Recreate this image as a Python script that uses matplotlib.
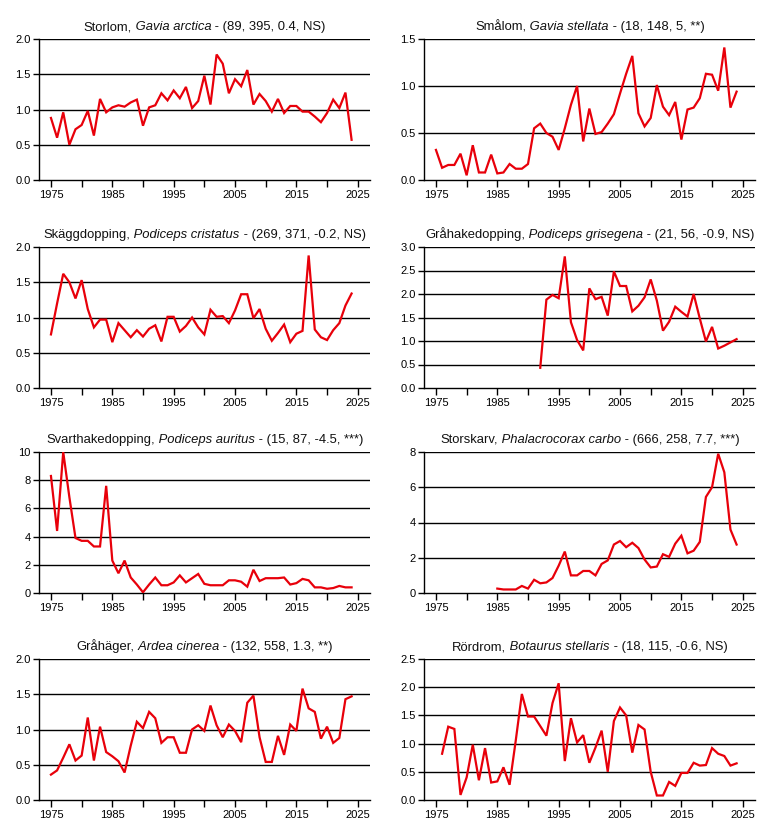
import matplotlib
matplotlib.use("Agg")
import matplotlib.pyplot as plt
import numpy as np

plt.rcParams['font.family'] = ['Liberation Sans', 'DejaVu Sans']

# ---- data ----
storlom_start = 1975
storlom = [0.88, 0.60, 0.96, 0.50, 0.72, 0.78, 0.98, 0.63, 1.15, 0.96,
           1.03, 1.06, 1.04, 1.10, 1.14, 0.77, 1.03, 1.06, 1.23, 1.13,
           1.27, 1.16, 1.32, 1.02, 1.12, 1.48, 1.07, 1.78, 1.65, 1.23,
           1.43, 1.33, 1.56, 1.07, 1.22, 1.12, 0.97, 1.15, 0.95, 1.05,
           1.05, 0.97, 0.97, 0.90, 0.82, 0.95, 1.14, 1.02, 1.24, 0.57]

smalom_start = 1975
smalom = [0.32, 0.13, 0.16, 0.16, 0.28, 0.05, 0.37, 0.08, 0.08, 0.27,
          0.07, 0.08, 0.17, 0.12, 0.12, 0.17, 0.55, 0.60, 0.50, 0.46,
          0.32, 0.55, 0.80, 1.00, 0.41, 0.76, 0.49, 0.51, 0.60, 0.70,
          0.92, 1.13, 1.32, 0.71, 0.57, 0.66, 1.01, 0.78, 0.69, 0.83,
          0.43, 0.75, 0.77, 0.87, 1.13, 1.12, 0.95, 1.41, 0.77, 0.94]

skagg_start = 1975
skagg = [0.76, 1.20, 1.62, 1.50, 1.27, 1.53, 1.12, 0.86, 0.97, 0.97,
         0.65, 0.92, 0.82, 0.72, 0.82, 0.73, 0.84, 0.89, 0.66, 1.01,
         1.01, 0.80, 0.88, 1.00, 0.86, 0.76, 1.11, 1.01, 1.02, 0.92,
         1.10, 1.33, 1.33, 0.99, 1.12, 0.84, 0.67, 0.78, 0.90, 0.65,
         0.77, 0.81, 1.88, 0.83, 0.72, 0.68, 0.82, 0.92, 1.17, 1.34]

grahake_start = 1992
grahake = [0.43, 1.88, 1.98, 1.91, 2.80, 1.40, 1.02, 0.80, 2.12, 1.89,
           1.94, 1.54, 2.48, 2.17, 2.17, 1.63, 1.75, 1.93, 2.31, 1.86,
           1.22, 1.41, 1.73, 1.62, 1.52, 2.00, 1.48, 0.99, 1.30, 0.84,
           0.90, 0.97, 1.04]

svart_start = 1975
svart = [8.3, 4.4, 10.0, 6.8, 3.9, 3.7, 3.7, 3.3, 3.3, 7.6,
         2.3, 1.4, 2.3, 1.1, 0.6, 0.05, 0.6, 1.1, 0.55, 0.55,
         0.75, 1.25, 0.75, 1.05, 1.35, 0.65, 0.55, 0.55, 0.55, 0.9,
         0.9, 0.8, 0.45, 1.65, 0.85, 1.05, 1.05, 1.05, 1.1, 0.6,
         0.7, 1.0, 0.9, 0.4, 0.4, 0.3, 0.35, 0.5, 0.4, 0.4]

storskarv_start = 1985
storskarv = [0.25, 0.2, 0.2, 0.2, 0.4, 0.25, 0.75, 0.55, 0.6, 0.85,
             1.55, 2.35, 1.0, 1.0, 1.25, 1.25, 1.0, 1.65, 1.85, 2.75,
             2.95, 2.6, 2.85, 2.55, 1.9, 1.45, 1.5, 2.2, 2.05, 2.8,
             3.25, 2.25, 2.4, 2.9, 5.45, 6.0, 7.9, 6.85, 3.6, 2.75]

grahager_start = 1975
grahager = [0.36, 0.42, 0.60, 0.79, 0.56, 0.63, 1.17, 0.56, 1.04, 0.68,
            0.62, 0.55, 0.39, 0.77, 1.11, 1.02, 1.25, 1.16, 0.81, 0.89,
            0.89, 0.67, 0.67, 1.00, 1.06, 0.98, 1.34, 1.06, 0.89, 1.07,
            0.98, 0.82, 1.38, 1.48, 0.89, 0.54, 0.54, 0.91, 0.64, 1.07,
            0.98, 1.58, 1.30, 1.25, 0.87, 1.04, 0.81, 0.88, 1.43, 1.47]

rordrom_start = 1976
rordrom = [0.82, 1.30, 1.26, 0.09, 0.40, 0.98, 0.35, 0.92, 0.31, 0.33,
           0.58, 0.27, 1.05, 1.88, 1.48, 1.48, 1.31, 1.14, 1.72, 2.07,
           0.69, 1.45, 1.02, 1.15, 0.66, 0.93, 1.23, 0.50, 1.40, 1.64,
           1.50, 0.84, 1.33, 1.25, 0.50, 0.08, 0.08, 0.32, 0.25, 0.48,
           0.48, 0.66, 0.61, 0.62, 0.92, 0.82, 0.78, 0.61, 0.65]

common_names = ["Storlom", "Smålom", "Skäggdopping", "Gråhakedopping",
                "Svarthakedopping", "Storskarv", "Gråhäger", "Rördrom"]
latin_names = ["Gavia arctica", "Gavia stellata", "Podiceps cristatus",
               "Podiceps grisegena", "Podiceps auritus", "Phalacrocorax carbo",
               "Ardea cinerea", "Botaurus stellaris"]
stats = ["(89, 395, 0.4, NS)", "(18, 148, 5, **)", "(269, 371, -0.2, NS)",
         "(21, 56, -0.9, NS)", "(15, 87, -4.5, ***)", "(666, 258, 7.7, ***)",
         "(132, 558, 1.3, **)", "(18, 115, -0.6, NS)"]
series = [storlom, smalom, skagg, grahake, svart, storskarv, grahager, rordrom]
starts = [storlom_start, smalom_start, skagg_start, grahake_start,
          svart_start, storskarv_start, grahager_start, rordrom_start]
y_ticks = [[0, 0.5, 1.0, 1.5, 2.0], [0, 0.5, 1.0, 1.5],
           [0, 0.5, 1.0, 1.5, 2.0], [0, 0.5, 1.0, 1.5, 2.0, 2.5, 3.0],
           [0, 2, 4, 6, 8, 10], [0, 2, 4, 6, 8],
           [0, 0.5, 1.0, 1.5, 2.0], [0, 0.5, 1.0, 1.5, 2.0, 2.5]]
y_fmt = ["%.1f", "%.1f", "%.1f", "%.1f", "%d", "%d", "%.1f", "%.1f"]
x_ticks = list(range(1975, 2026, 5))
x_labels = [str(t) if (t - 1975) % 10 == 0 else "" for t in x_ticks]

# ---- layout ----
W, H = 769, 827
fig = plt.figure(figsize=(W / 100, H / 100), dpi=100)
lefts = [39.3, 424.3]
width = 330.7
tops = [39, 247, 452, 659]
height = 141

RED = "#e8000a"
TFS = 9.4
axes = []
for i in range(8):
    r, c = divmod(i, 2)
    ax = fig.add_axes([lefts[c] / W, 1 - (tops[r] + height) / H, width / W, height / H])
    axes.append(ax)
    vals = series[i]
    yrs = np.arange(starts[i], starts[i] + len(vals))
    yt = y_ticks[i]
    for g in yt[1:]:
        ax.axhline(g, color="black", lw=1.0, zorder=1)
    ax.plot(yrs, vals, color=RED, lw=1.6, zorder=3, solid_joinstyle="miter")
    ax.set_xlim(1973.1, 2027.0)
    ax.set_ylim(0, yt[-1])
    ax.set_yticks(yt)
    ax.set_yticklabels([y_fmt[i] % v for v in yt])
    ax.set_xticks(x_ticks)
    ax.set_xticklabels(x_labels)
    ax.spines["right"].set_visible(False)
    ax.spines["top"].set_visible(False)
    for s in ("left", "bottom"):
        ax.spines[s].set_linewidth(1.0)
    ax.tick_params(axis="y", length=4, width=1.0, labelsize=8, pad=2)
    ax.tick_params(axis="x", length=5, width=1.0, labelsize=8, pad=2)
    ax.margins(0)

# ---- titles with italic latin names ----
fig.canvas.draw()
renderer = fig.canvas.get_renderer()
for i, ax in enumerate(axes):
    parts = [(common_names[i] + ",", "normal"), (" " + latin_names[i], "italic"),
             (" - " + stats[i], "normal")]
    texts = []
    for s, st in parts:
        t = fig.text(0, 0, s, fontsize=TFS, style=st, va="baseline", ha="left",
                     color="#111111")
        texts.append(t)
    widths = [t.get_window_extent(renderer).width for t in texts]
    total = sum(widths)
    pos = ax.get_position()
    cx = (pos.x0 + pos.x1) / 2 * W
    y_pix = pos.y1 * H + 9
    x = cx - total / 2
    for t, w in zip(texts, widths):
        t.set_position((x / W, y_pix / H))
        x += w

fig.savefig("out.png", dpi=100)
